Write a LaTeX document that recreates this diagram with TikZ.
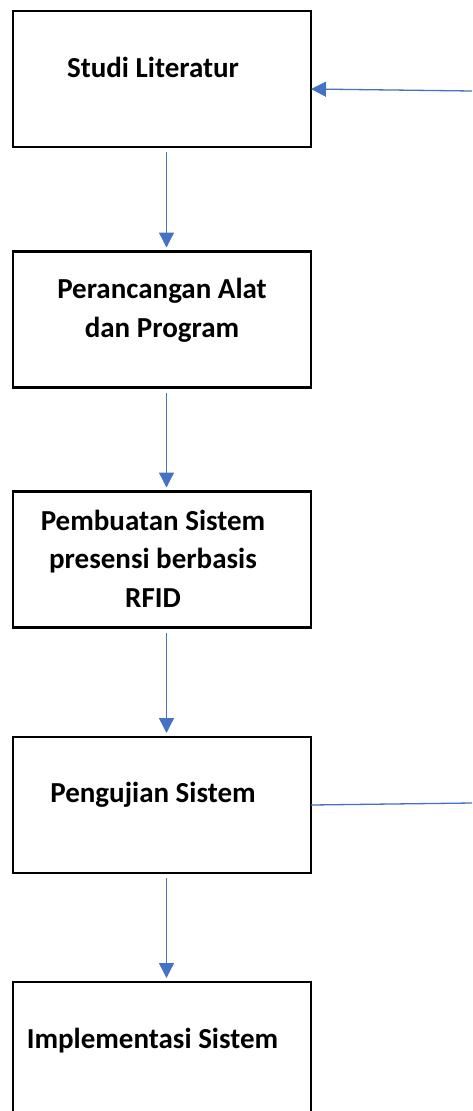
\documentclass[tikz,border=0pt]{standalone}
\usepackage{fontspec}
\setmainfont{Carlito}
\usetikzlibrary{arrows.meta}
\definecolor{flowblue}{HTML}{4472C4}

\begin{document}
\begin{tikzpicture}[x=1pt, y=-1pt,
  box/.style={draw=black, line width=2.8pt, minimum width=298pt, minimum height=136pt, inner sep=0pt, outer sep=0pt},
  txt/.style={font=\fontsize{29}{38.5}\selectfont\bfseries, align=center, anchor=base, inner sep=0pt},
  flow/.style={draw=flowblue, line width=1.3pt, -{Triangle[length=15pt, width=15pt]}},
  flowline/.style={draw=flowblue, line width=1.3pt}]
\useasboundingbox (0,0) rectangle (472,1111);

% boxes
\node[box] (lit) at (162,79) {};
\node[box] (alat) at (162,319.5) {};
\node[box] (buat) at (162,559.5) {};
\node[box] (uji) at (162,805) {};
\node[box] (impl) at (162,1050) {};

% labels (base = last line)
\node[txt] (litT) at (153,77) {Studi Literatur};
\node[txt] (alatT) at (162,337) {Perancangan Alat\\dan Program};
\node[txt] (buatT) at (153,607) {Pembuatan Sistem\\presensi berbasis\\RFID};
\node[txt] (ujiT) at (153,802) {Pengujian Sistem};
\node[txt] (implT) at (152.5,1048) {Implementasi Sistem};

% arrows
\draw[flow, shorten <=5pt, shorten >=4pt] ([xshift=4.5pt]lit.south) -- ([xshift=4.5pt]alat.north);
\draw[flow, shorten <=5pt, shorten >=4pt] ([xshift=4.5pt]alat.south) -- ([xshift=4.5pt]buat.north);
\draw[flow, shorten <=5pt, shorten >=4pt] ([xshift=4.5pt]buat.south) -- ([xshift=4.5pt]uji.north);
\draw[flow, shorten <=5pt, shorten >=4pt] ([xshift=4.5pt]uji.south) -- ([xshift=4.5pt]impl.north);

% feedback
\coordinate (fbOut) at (472,803);
\coordinate (fbIn) at (472,91);
\draw[flowline] (uji.east) -- (fbOut);
\draw[flow] (fbIn) -- ([yshift=-10pt]lit.east);
\end{tikzpicture}
\end{document}
